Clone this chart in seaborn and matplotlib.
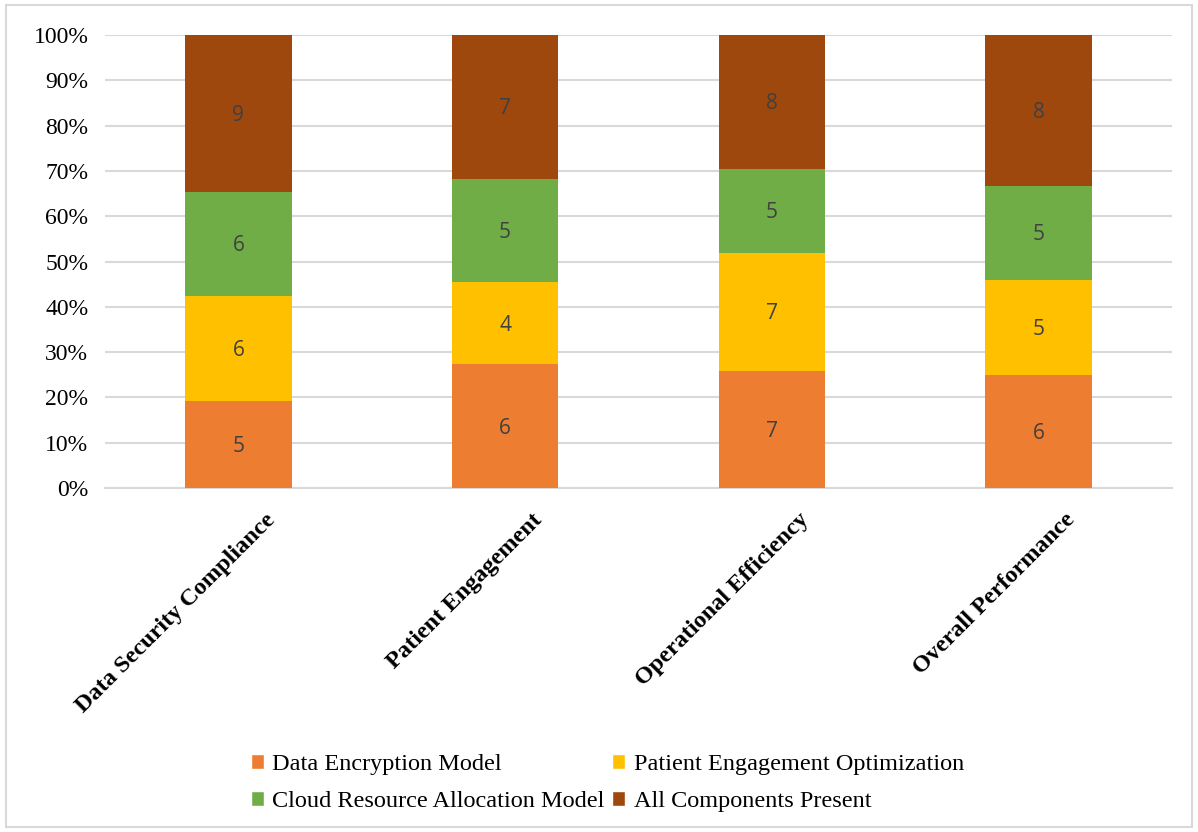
import matplotlib
matplotlib.use("Agg")
import matplotlib.pyplot as plt
import matplotlib.transforms as mtransforms
from matplotlib.patches import Patch, Rectangle
import numpy as np
import pandas as pd
import seaborn as sns

categories = ["Data Security Compliance", "Patient Engagement", "Operational Efficiency", "Overall Performance"]
series_names = ["Data Encryption Model", "Patient Engagement Optimization",
                "Cloud Resource Allocation Model", "All Components Present"]
data_encryption = [5, 6, 7, 6]
patient_engagement_opt = [6, 4, 7, 5]
cloud_resource = [6, 5, 5, 5]
all_components = [9, 7, 8, 8]
colors = ["#ED7D31", "#FFC000", "#70AD47", "#9E480E"]
y_ticks = [0, 10, 20, 30, 40, 50, 60, 70, 80, 90, 100]

sns.set_theme(style="white")
plt.rcParams["font.family"] = ["Liberation Serif", "DejaVu Serif"]

vals = np.array([data_encryption, patient_engagement_opt, cloud_resource, all_components], dtype=float)
totals = vals.sum(axis=0)
pct = vals / totals * 100
cum = np.cumsum(pct, axis=0)

fig = plt.figure(figsize=(11.98, 8.32), dpi=100)
ax = fig.add_axes([105/1198, 1-488/832, (1172-105)/1198, (488-35)/832])

for k in range(3, -1, -1):
    df = pd.DataFrame({"cat": categories, "val": cum[k]})
    sns.barplot(data=df, x="cat", y="val", color=colors[k], width=0.4,
                saturation=1, edgecolor="none", linewidth=0, ax=ax, zorder=3)

for k in range(4):
    for i in range(len(categories)):
        ax.text(i, cum[k, i] - pct[k, i] / 2 - 0.4, f"{int(vals[k, i])}", ha="center", va="center",
                fontsize=15, color="#404040", family=["Open Sans", "DejaVu Sans"], zorder=5)

ax.set_ylim(0, 100)
ax.set_xlim(-0.5, 3.5)
ax.set_yticks(y_ticks)
ax.set_yticklabels([f"{t}%" for t in y_ticks], fontsize=17, color="#000000")
ax.yaxis.grid(True, color="#D9D9D9", linewidth=1.5, zorder=0)
ax.set_axisbelow(True)
for s in ["left", "right", "top"]:
    ax.spines[s].set_visible(False)
ax.spines["bottom"].set_color("#D9D9D9")
ax.spines["bottom"].set_linewidth(1.5)
ax.tick_params(axis="y", length=0, pad=12)
ax.tick_params(axis="x", length=0, pad=4)
ax.set_xlabel("")
ax.set_ylabel("")
ax.set_xticks(range(len(categories)))
ax.set_xticklabels(categories, rotation=45, ha="right", rotation_mode="anchor",
                   fontsize=17.5, fontweight="bold", color="#000000")
offset = mtransforms.ScaledTranslation(0.26, -0.16, fig.dpi_scale_trans)
for lab in ax.get_xticklabels():
    lab.set_transform(lab.get_transform() + offset)

handles = [Patch(facecolor=colors[0]), Patch(facecolor=colors[2]),
           Patch(facecolor=colors[1]), Patch(facecolor=colors[3])]
labels = [series_names[0], series_names[2], series_names[1], series_names[3]]
fig.legend(handles, labels, ncol=2, loc="center", bbox_to_anchor=(0.507, 1-783/832),
           frameon=False, fontsize=17.5, handlelength=0.55, handleheight=0.55,
           handletextpad=0.35, columnspacing=0.3, labelspacing=0.65,
           labelcolor="#000000")

fig.patches.append(Rectangle((6/1198, 5/832), 1-12/1198, 1-10/832, transform=fig.transFigure,
                             fill=False, edgecolor="#D9D9D9", linewidth=1.5))

fig.savefig("out.png", dpi=100)
